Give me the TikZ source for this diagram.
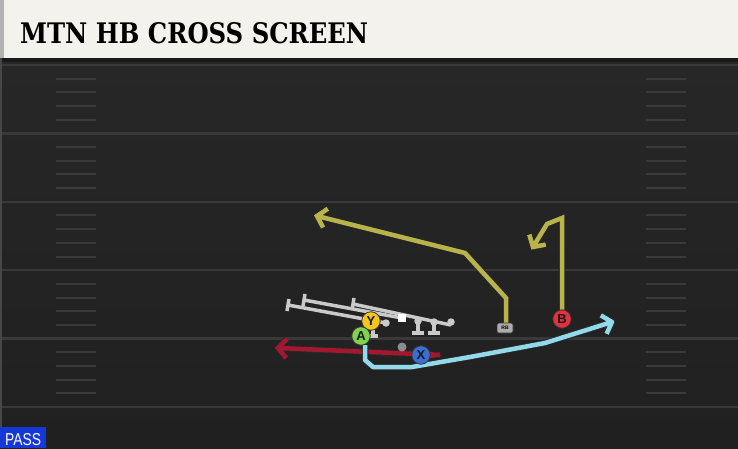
\documentclass[tikz,border=0pt]{standalone}
\usepackage{fontspec}
\setsansfont{Liberation Sans}
\newfontfamily\titlefont{DejaVu Serif}
\usetikzlibrary{calc}
\definecolor{cream}{HTML}{F4F2EC}
\definecolor{fieldtop}{HTML}{272727}
\definecolor{fieldbot}{HTML}{202020}
\definecolor{yardline}{HTML}{393939}
\definecolor{hashc}{HTML}{3A3A3A}
\definecolor{routey}{HTML}{B8B34B}
\definecolor{routec}{HTML}{92D9EA}
\definecolor{router}{HTML}{A3172F}
\definecolor{sled}{HTML}{CACACA}
\definecolor{pyel}{HTML}{F3C51F}
\definecolor{pgrn}{HTML}{80D14B}
\definecolor{pblu}{HTML}{3B6ED5}
\definecolor{pred}{HTML}{E1303F}
\definecolor{passblue}{HTML}{1538D6}
\tikzset{
  route/.style={draw=#1, line width=4.5pt, line join=miter, preaction={draw=black!85, line width=6.5pt}},
  player/.style={circle, minimum size=18.5pt, inner sep=0pt, fill=#1, draw=black!80, line width=0.8pt,
    font=\sffamily\bfseries\fontsize{13}{13}\selectfont, text=black!90},
  blockline/.style={draw=sled, line width=3.5pt},
  lineman/.style={circle, minimum size=7.5pt, inner sep=0pt, fill=sled},
  yard/.style={draw=yardline, line width=2.5pt},
  hashmark/.style={draw=hashc, line width=2pt},
}
\begin{document}
\begin{tikzpicture}[x=1pt,y=-1pt]
\useasboundingbox (0,0) rectangle (738,448);
% field
\shade[top color=fieldtop, bottom color=fieldbot] (0,58) rectangle (738,448);
\fill[black!90] (0,57) rectangle (738,62);
\fill[black!72] (0,58) rectangle (2,427);
% yard lines and hashes
\foreach \k in {0,...,5}{
  \pgfmathsetmacro{\yy}{65+68.4*\k}
  \draw[yard] (2,\yy) -- (738,\yy);
}
\foreach \k in {0,...,4}{
  \foreach \j in {1,...,4}{
    \pgfmathsetmacro{\yy}{65+68.4*\k+13.68*\j}
    \draw[hashmark] (56,\yy) -- (96,\yy);
    \draw[hashmark] (646,\yy) -- (686,\yy);
  }
}
% title bar
\fill[cream] (0,0) rectangle (738,58);
\fill[black!30] (0,0) rectangle (4,58);
\node[anchor=base west, inner sep=0pt] (title) at (20,43)
  {\resizebox{348pt}{21pt}{\titlefont\bfseries MTN HB CROSS SCREEN}};
% PASS tag
\fill[passblue] (0,427) rectangle (46,448);
\node[anchor=base west, inner sep=0pt, text=white] (pass) at (5,445)
  {\resizebox{36pt}{12pt}{\sffamily PASS}};

% players (positions)
\coordinate (Ypos) at (371,321);
\coordinate (Apos) at (361,336);
\coordinate (Xpos) at (421,355);
\coordinate (Bpos) at (562,319);
\coordinate (RBpos) at (505,328);

% red route
\coordinate (r0) at (440,355);
\coordinate (rtip) at (278,348);
\draw[route=router] (r0) -- (rtip)
  ($(rtip)!13pt!48:(r0)$) -- (rtip) -- ($(rtip)!13pt!-48:(r0)$);
\fill[router] (426,350) -- (442,356) -- (426,359) -- cycle;

% cyan route
\coordinate (c0) at (365,345);
\coordinate (c1) at (365,360);
\coordinate (c2) at (373,367);
\coordinate (c3) at (412,367);
\coordinate (c4) at (470,357);
\coordinate (c5) at (545,343);
\coordinate (ctip) at (612,322);
\draw[route=routec, line join=round] (c0) -- (c1) -- (c2) -- (c3) -- (c4) -- (c5) -- (ctip)
  ($(ctip)!13pt!48:(c5)$) -- (ctip) -- ($(ctip)!13pt!-48:(c5)$);

% RB route
\coordinate (h1) at (506,298);
\coordinate (h2) at (465,253);
\coordinate (htip) at (317,216);
\draw[route=routey] (506,323) -- (h1) -- (h2) -- (htip)
  ($(htip)!13pt!48:(h2)$) -- (htip) -- ($(htip)!13pt!-48:(h2)$);

% B route
\coordinate (b1) at (562,218);
\coordinate (b2) at (547,224);
\coordinate (btip) at (533,247);
\draw[route=routey] (Bpos) -- (b1) -- (b2) -- (btip)
  ($(btip)!13pt!48:(b2)$) -- (btip) -- ($(btip)!13pt!-48:(b2)$);

% offensive line
\coordinate (lt) at (373,326);
\coordinate (lg) at (386,323);
\coordinate (cc) at (402,318);
\coordinate (rg) at (418,321);
\coordinate (rt) at (434,322);
\coordinate (te) at (451,322);
\coordinate (ltT) at (373,336);
\coordinate (rgT) at (418,333);
\coordinate (rtT) at (434,333);
\coordinate (lgT) at (288,305);
\coordinate (ccT) at (304,300);
\coordinate (teT) at (353,304);
\draw[blockline] (lt) -- (ltT) (368,336) -- (378,336);
\draw[blockline] (rg) -- (rgT) (412,333) -- (424,333);
\draw[blockline] (rt) -- (rtT) (428,333) -- (440,333);
\draw[blockline] (lg) -- (lgT) (289,299) -- (287,311);
\draw[blockline] (cc) -- (ccT) (305,294) -- (303,306);
\draw[blockline] (451,325) -- (teT) (354,298) -- (352,310);
\node[lineman] (nlt) at (lt) {};
\node[lineman] (nlg) at (lg) {};
\node[lineman] (nrg) at (rg) {};
\node[lineman] (nrt) at (rt) {};
\node[lineman] (nte) at (te) {};
\node[fill=white, minimum size=7.5pt, inner sep=0pt] (center) at (cc) {};
\node[circle, fill=gray!75, opacity=0.85, minimum size=9pt, inner sep=0pt] (qb) at (402,347) {};

% skill players
\node[player=pyel] (Y) at (Ypos) {Y};
\node[player=pgrn] (A) at (Apos) {A};
\node[player=pblu] (X) at (Xpos) {X};
\node[player=pred] (B) at (Bpos) {B};
\node[rounded corners=2pt, fill=gray!65, draw=black!80, line width=0.6pt, minimum width=16pt,
  minimum height=10pt, inner sep=0pt, font=\sffamily\bfseries\fontsize{5}{5}\selectfont] (RB) at (RBpos) {RB};
\end{tikzpicture}
\end{document}
